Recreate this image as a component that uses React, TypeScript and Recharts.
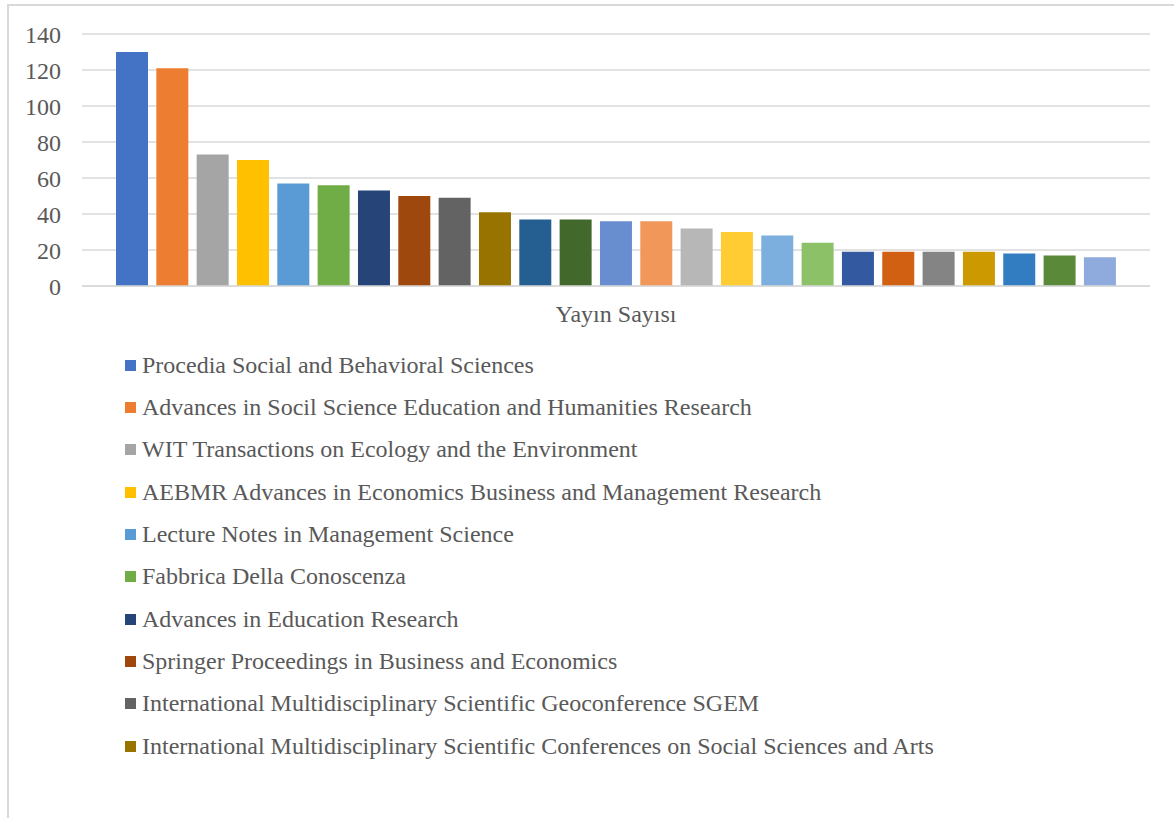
import React from "react";
import { BarChart, Bar, XAxis, YAxis, CartesianGrid, Legend } from "recharts";

const category = "Yayın Sayısı";

const journals = [
  "Procedia Social and Behavioral Sciences",
  "Advances in Socil Science Education and Humanities Research",
  "WIT Transactions on Ecology and the Environment",
  "AEBMR Advances in Economics Business and Management Research",
  "Lecture Notes in Management Science",
  "Fabbrica Della Conoscenza",
  "Advances in Education Research",
  "Springer Proceedings in Business and Economics",
  "International Multidisciplinary Scientific Geoconference SGEM",
  "International Multidisciplinary Scientific Conferences on Social Sciences and Arts",
  "Seri 11",
  "Seri 12",
  "Seri 13",
  "Seri 14",
  "Seri 15",
  "Seri 16",
  "Seri 17",
  "Seri 18",
  "Seri 19",
  "Seri 20",
  "Seri 21",
  "Seri 22",
  "Seri 23",
  "Seri 24",
  "Seri 25",
];

const counts = [130, 121, 73, 70, 57, 56, 53, 50, 49, 41, 37, 37, 36, 36, 32, 30, 28, 24, 19, 19, 19, 19, 18, 17, 16];

const yTicks = [0, 20, 40, 60, 80, 100, 120, 140];

// number of legend rows visible before the frame is cut off
const visibleLegend = 10;

const colors = [
  "#4472C4", "#ED7D31", "#A5A5A5", "#FFC000", "#5B9BD5", "#70AD47",
  "#264478", "#9E480E", "#636363", "#997300", "#255E91", "#43682B",
  "#698ED0", "#F1975A", "#B7B7B7", "#FFCD33", "#7CAFDD", "#8CC168",
  "#335AA1", "#D26012", "#848484", "#CC9A00", "#327DC2", "#5A8A39",
  "#8FAADC",
];

const FONT = '"Liberation Serif", "Times New Roman", serif';
const TEXT = "#595959";

const row: Record<string, string | number> = { name: category };
journals.forEach((_, i) => {
  row[`s${i}`] = counts[i];
});
const data = [row];

function LegendList() {
  return (
    <div style={{ fontFamily: FONT, fontSize: 24, color: TEXT }}>
      {journals.slice(0, visibleLegend).map((j, i) => (
        <div key={j} style={{ height: 42.33, display: "flex", alignItems: "center", whiteSpace: "nowrap" }}>
          <span style={{ width: 11, height: 11, background: colors[i], display: "inline-block", marginRight: 6 }} />
          <span>{j}</span>
        </div>
      ))}
    </div>
  );
}

export default function App() {
  return (
    <div style={{ position: "absolute", left: 0, top: 0, width: 1174, height: 818, background: "#fff", overflow: "hidden" }}>
      <div
        style={{
          position: "absolute",
          left: 7,
          top: 4,
          width: 1200,
          height: 900,
          borderLeft: "2px solid #d9d9d9",
          borderTop: "2px solid #d9d9d9",
        }}
      />
      <BarChart
        width={1174}
        height={818}
        data={data}
        margin={{ top: 34, right: 24, left: 0, bottom: 492 }}
        barCategoryGap={34}
        barGap={8.33}
        style={{ position: "absolute", left: 0, top: 0 }}
      >
        <CartesianGrid vertical={false} stroke="#d9d9d9" strokeWidth={1.5} />
        <XAxis
          dataKey="name"
          height={40}
          axisLine={{ stroke: "#d9d9d9", strokeWidth: 1.5 }}
          tickLine={false}
          tickSize={6}
          tickMargin={13}
          tick={{ fill: TEXT, fontFamily: FONT, fontSize: 24 }}
        />
        <YAxis
          width={82}
          domain={[0, 140]}
          ticks={yTicks}
          axisLine={false}
          tickLine={false}
          tickSize={6}
          tickMargin={15}
          tick={{ fill: TEXT, fontFamily: FONT, fontSize: 24 }}
        />
        <Legend
          layout="horizontal"
          verticalAlign="middle"
          align="center"
          content={<LegendList />}
          wrapperStyle={{ left: 125, top: 344, width: 1000, height: 430 }}
        />
        {journals.map((j, i) => (
          <Bar key={j} dataKey={`s${i}`} name={j} fill={colors[i]} isAnimationActive={false} />
        ))}
      </BarChart>
    </div>
  );
}
